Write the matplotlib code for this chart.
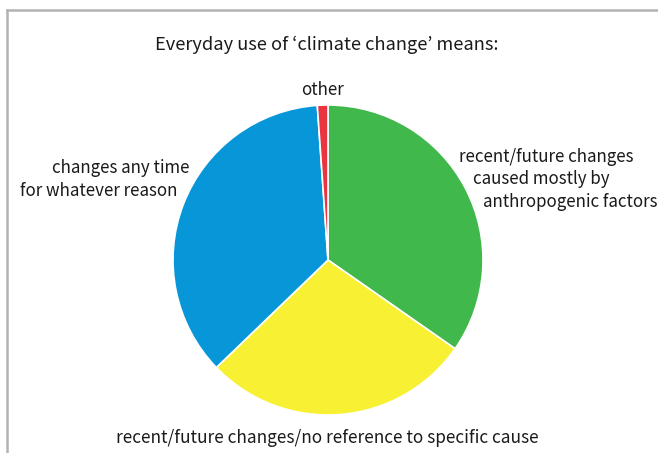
import matplotlib.pyplot as plt
from matplotlib.lines import Line2D

title = "Everyday use of \u2018climate change\u2019 means:"
labels = ["recent/future changes\ncaused mostly by\nanthropogenic factors",
          "recent/future changes/no reference to specific cause",
          "changes any time\nfor whatever reason",
          "other"]
shares = [34.7, 28.1, 36.1, 1.1]
colors = ["#40b84c", "#f8f032", "#0797d9", "#e9353f"]

W, H = 658, 453
fig = plt.figure(figsize=(W / 100, H / 100), dpi=100)
ax = fig.add_axes([0, 0, 1, 1])
ax.set_xlim(0, W)
ax.set_ylim(0, H)
ax.set_aspect("equal")
ax.axis("off")

ax.pie(shares, colors=colors, startangle=90, counterclock=False,
       center=(328, H - 260), radius=155,
       wedgeprops=dict(edgecolor="white", linewidth=1.2))
ax.set_xlim(0, W)
ax.set_ylim(0, H)

# partial frame (top and left)
fig.add_artist(Line2D([7 / W, 1], [1 - 10 / H, 1 - 10 / H], color="#b3b3b3", lw=1.8))
fig.add_artist(Line2D([7 / W, 7 / W], [0, 1 - 10 / H], color="#b3b3b3", lw=1.8))

font = dict(family=["Noto Sans CJK JP", "DejaVu Sans"], color="#1a1a1a", fontsize=12.2)
ax.text(327, H - 45, title, ha="center", va="center", **dict(font, fontsize=13.1))
ax.text(323, H - 90, labels[3], ha="center", va="center", **font)
left = labels[2].split("\n")
ax.text(52, H - 168, left[0], ha="left", va="center", **font)
ax.text(20, H - 191, left[1], ha="left", va="center", **font)
right = labels[0].split("\n")
ax.text(459, H - 157, right[0], ha="left", va="center", **font)
ax.text(473, H - 179, right[1], ha="left", va="center", **font)
ax.text(483, H - 202, right[2], ha="left", va="center", **font)
ax.text(327, H - 438, labels[1], ha="center", va="center", **dict(font, fontsize=12.4))

fig.savefig("out.png", dpi=100)
